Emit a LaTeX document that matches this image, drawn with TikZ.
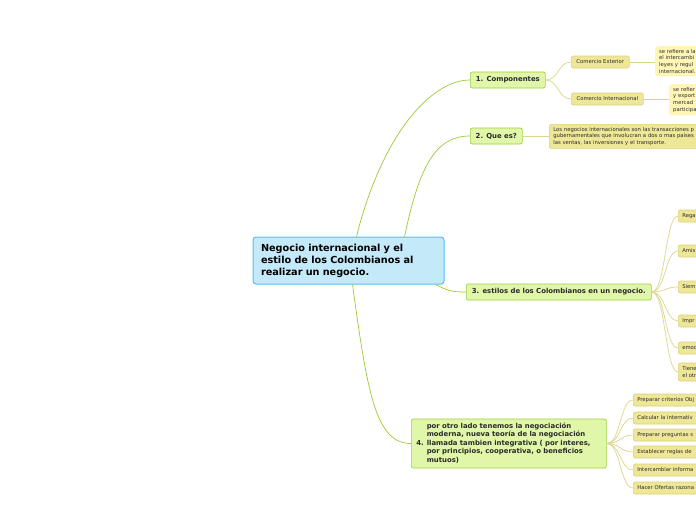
\documentclass[tikz,border=0pt]{standalone}
\usepackage{fontspec}
\setmainfont{DejaVu Sans}
\usetikzlibrary{calc}
\definecolor{cfill}{HTML}{C4EAFA}
\definecolor{cdraw}{HTML}{55C0EE}
\definecolor{bfill}{HTML}{E0F6A8}
\definecolor{bdraw}{HTML}{9FD040}
\definecolor{lfill}{HTML}{EEE797}
\definecolor{ldraw}{HTML}{DBD27C}
\definecolor{nfill}{HTML}{FFF6B6}
\definecolor{mainline}{HTML}{9CCB35}
\definecolor{subline}{HTML}{DDD68A}
\definecolor{txt}{HTML}{2A2A2A}
\tikzset{
 central/.style={draw=cdraw, fill=cfill, rounded corners=3pt, line width=1pt,
   minimum width=191pt, minimum height=47pt, text width=175pt, align=left,
   font=\fontsize{9.7}{12}\selectfont\bfseries, text=black, inner xsep=8pt, inner ysep=0pt},
 branch/.style={draw=bdraw, fill=bfill, rounded corners=2pt, line width=0.7pt,
   minimum height=16pt, font=\fontsize{6.9}{8.5}\selectfont\bfseries, text=txt,
   inner sep=0pt, anchor=west},
 leaf/.style={draw=ldraw, fill=lfill, rounded corners=2pt, line width=0.6pt,
   minimum height=12pt, font=\fontsize{5.3}{6.6}\selectfont, text=txt,
   inner xsep=4pt, inner ysep=0pt, anchor=west},
 cutleaf/.style={leaf, text width=80pt, align=left},
 note/.style={fill=nfill, rounded corners=3pt, font=\fontsize{5.3}{6.7}\selectfont,
   text=txt, anchor=north west, inner xsep=4pt, inner ysep=3pt, text width=80pt, align=left},
 mline/.style={draw=mainline, line width=0.7pt},
 sline/.style={draw=subline, line width=0.7pt},
}
\begin{document}
\begin{tikzpicture}[x=1pt,y=-1pt]
\useasboundingbox (0,0) rectangle (696,520);
\clip (0,0) rectangle (696,520);
\fill[white] (0,0) rectangle (696,520);

% central
\node[central] (c) at (348.5,260.5) {Negocio internacional y el\\estilo de los Colombianos al\\realizar un negocio.};

% branches
\node[branch, minimum width=75pt] (b1) at (470,80) {1. Componentes};
\node[branch, minimum width=52pt] (b2) at (470,136) {2. Que es?};
\node[branch, minimum width=185pt] (b3) at (466,292) {3. estilos de los Colombianos en un negocio.};
\node[branch, minimum width=195pt, minimum height=49pt, text width=185pt, align=left, inner xsep=5pt] (b4) at (411,443.5)
 {\begin{tabular}{@{}l@{\hspace{3pt}}l@{}}4. & \begin{tabular}[c]{@{}l@{}}por otro lado tenemos la negociación\\moderna, nueva teoría de la negociación\\llamada tambien integrativa ( por interes,\\por principios, cooperativa, o beneficios\\mutuos)\end{tabular}\end{tabular}};

% main connectors
\draw[mline] ($(c.north west)+(104,0)$) .. controls +(25,-100) and +(-40,0) .. (b1.west);
\draw[mline] ($(c.north west)+(152,0)$) .. controls +(15,-70) and +(-35,0) .. (b2.west);
\draw[mline] ($(c.south east)+(-9,0)$) .. controls +(12,6) and +(-15,0) .. (b3.west);
\draw[mline] ($(c.south west)+(100,0)$) .. controls +(15,110) and +(-35,0) .. (b4.west);

% componentes
\node[leaf, minimum width=58pt] (l1) at (571,62) {Comercio Exterior};
\node[leaf, minimum width=72pt] (l2) at (571,99) {Comercio Internacional};
\node[note] (n1) at (655,46) {se refiere a la\\el intercambi\\leyes y regul\\internacional.};
\node[note] (n2) at (669,84) {se refier\\y export\\mercad\\participa};
\draw[sline] (b1.east) .. controls +(13,0) and +(-13,0) .. (l1.west);
\draw[sline] (b1.east) .. controls +(13,0) and +(-13,0) .. (l2.west);
\draw[sline] (l1.east) -- (n1.west |- l1.east);
\draw[sline] (l2.east) -- (n2.west |- l2.east);

% que es
\node[leaf, anchor=north west, minimum height=24pt, text width=200pt, align=left, font=\fontsize{5.3}{6.5}\selectfont] (q1) at (549,124)
 {Los negocios internacionales son las transacciones p\\gubernamentales que involucran a dos o mas países\\las ventas, las inversiones y el transporte.};
\draw[sline] (b2.east) -- (q1.west |- b2.east);

% estilos
\node[cutleaf] (s1) at (678,216) {Rega};
\node[cutleaf] (s2) at (678,251) {Amis};
\node[cutleaf] (s3) at (678,287) {Siem};
\node[cutleaf] (s4) at (678,321) {Impr};
\node[cutleaf] (s5) at (678,348) {emoc};
\node[cutleaf, minimum height=18pt] (s6) at (678,372) {Tiene\\el otr};
\foreach \s in {s1,s2,s3,s4,s5,s6}
  \draw[sline] (b3.east) .. controls +(14,0) and +(-13,0) .. (\s.west);

% negociacion moderna
\node[cutleaf] (t1) at (633,400) {Preparar criterios Obj};
\node[cutleaf] (t2) at (633,418) {Calcular la internativ};
\node[cutleaf] (t3) at (633,435) {Preparar preguntas s};
\node[cutleaf] (t4) at (633,452) {Establecer reglas de};
\node[cutleaf] (t5) at (633,470) {Intercambiar informa};
\node[cutleaf] (t6) at (633,488) {Hacer Ofertas razona};
\foreach \t in {t1,t2,t3,t4,t5,t6}
  \draw[sline] (b4.east) .. controls +(14,0) and +(-13,0) .. (\t.west);
\end{tikzpicture}
\end{document}
